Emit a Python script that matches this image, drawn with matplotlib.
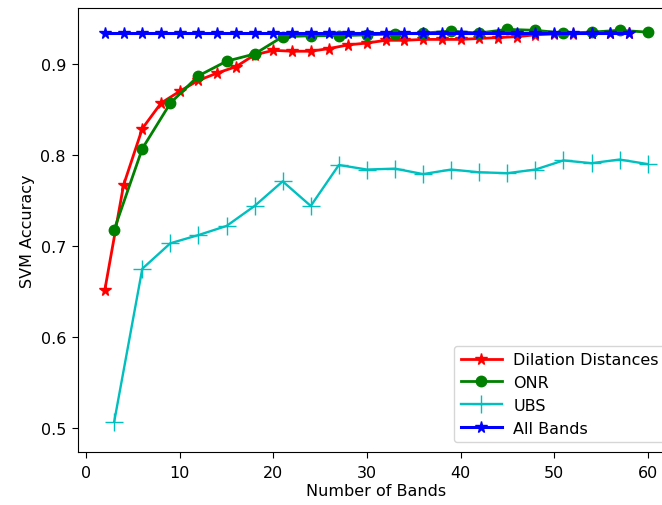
import matplotlib
matplotlib.use('Agg')
import matplotlib.pyplot as plt

# Numero de bandas de cada metodo
x_dil = [2, 4, 6, 8, 10, 12, 14, 16, 18, 20, 22, 24, 26, 28, 30, 32, 34, 36, 38, 40,
         42, 44, 46, 48, 50, 52, 54, 56, 58]
acc_dil = [0.652, 0.767, 0.829, 0.857, 0.870, 0.882, 0.890, 0.897, 0.910, 0.915, 0.914, 0.914,
           0.917, 0.921, 0.923, 0.926, 0.926, 0.927, 0.927, 0.927, 0.928, 0.929, 0.930, 0.932,
           0.933, 0.933, 0.934, 0.934, 0.934]

x_onr = [3, 6, 9, 12, 15, 18, 21, 24, 27, 30, 33, 36, 39, 42, 45, 48, 51, 54, 57, 60]
acc_onr = [0.718, 0.807, 0.857, 0.887, 0.903, 0.911, 0.930, 0.931, 0.931, 0.932, 0.933, 0.934,
           0.936, 0.934, 0.938, 0.937, 0.934, 0.935, 0.937, 0.935]

x_ubs = [3, 6, 9, 12, 15, 18, 21, 24, 27, 30, 33, 36, 39, 42, 45, 48, 51, 54, 57, 60]
acc_ubs = [0.507, 0.675, 0.703, 0.712, 0.722, 0.744, 0.771, 0.744, 0.789, 0.784, 0.785, 0.779,
           0.784, 0.781, 0.780, 0.784, 0.794, 0.791, 0.795, 0.790]

x_all = list(range(2, 59, 2))
acc_all = [0.934] * len(x_all)

plt.rcParams['font.size'] = 11.5

fig = plt.figure(figsize=(6.62, 5.06), dpi=100)
ax = fig.add_axes([0.1174, 0.1047, 0.902, 0.8775])

ax.plot(x_dil, acc_dil, color='red', marker='*', markersize=8.5, linewidth=2, label='Dilation Distances')
ax.plot(x_onr, acc_onr, color='green', marker='o', markersize=7.5, linewidth=2, label='ONR')
ax.plot(x_ubs, acc_ubs, color='c', marker='+', markersize=13, linewidth=1.7, label='UBS')
ax.plot(x_all, acc_all, color='blue', marker='*', markersize=8.5, linewidth=2.2, label='All Bands')

ax.set_xlim(-0.9, 62.9)
ax.set_ylim(0.4736, 0.9615)
ax.tick_params(axis='x', length=4.5, pad=5)
ax.tick_params(axis='y', length=4.5, pad=4)
ax.set_xlabel('Number of Bands', labelpad=2)
ax.set_ylabel('SVM Accuracy')
ax.legend(loc='lower right', borderaxespad=0.6, handlelength=2.6, handletextpad=0.7, labelspacing=0.5)

fig.savefig('out.png', dpi=100)
